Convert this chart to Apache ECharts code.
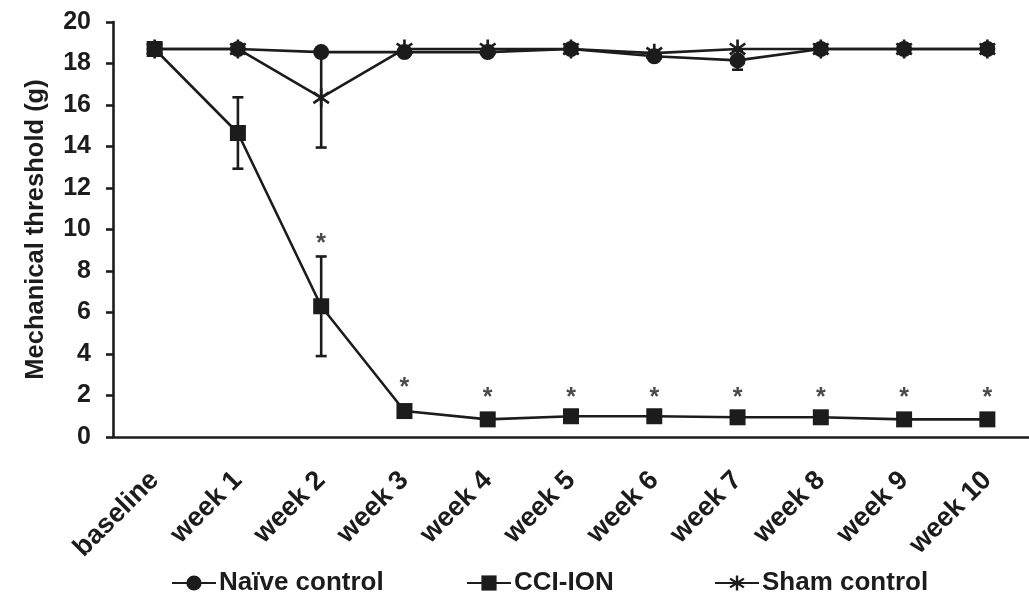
<!DOCTYPE html>
<html lang="en">
<head>
    <meta charset="UTF-8">
    <title>Mechanical threshold</title>
    <script src="https://cdn.jsdelivr.net/npm/echarts@6/dist/echarts.min.js"></script>
    <style>
        body { margin: 0; background: #fff; }
        #main { width: 1029px; height: 604px; }
    </style>
</head>
<body>
    <div id="main"></div>
    <script>
        // categories and values
        var weeks = ['baseline', 'week 1', 'week 2', 'week 3', 'week 4', 'week 5', 'week 6', 'week 7', 'week 8', 'week 9', 'week 10'];
        var naive = [18.7, 18.7, 18.55, 18.55, 18.55, 18.7, 18.35, 18.15, 18.7, 18.7, 18.7];
        var naiveErr = [0, 0, 0, 0, 0, 0, 0, 0.45, 0, 0, 0];
        var cci = [18.7, 14.65, 6.3, 1.25, 0.85, 1.0, 1.0, 0.95, 0.95, 0.85, 0.85];
        var cciErr = [0, 1.72, 2.4, 0, 0, 0, 0, 0, 0, 0, 0];
        var sham = [18.7, 18.7, 16.35, 18.7, 18.7, 18.7, 18.5, 18.7, 18.7, 18.7, 18.7];
        var shamErr = [0, 0, 2.4, 0, 0, 0, 0, 0, 0, 0, 0];
        // where the significance marks sit
        var sigY = [null, null, 9.6, 2.65, 2.15, 2.15, 2.15, 2.15, 2.15, 2.15, 2.15];
        var yTicks = [0, 20, 2];

        var ink = '#1c1c1c';
        var font = '"Liberation Sans", Arial, sans-serif';

        // asterisk marker for the sham group (three thin bars)
        function starPath() {
            var parts = [];
            var angles = [90, 35, -35];
            for (var i = 0; i < angles.length; i++) {
                var a = angles[i] * Math.PI / 180, w = 0.14;
                var dx = Math.cos(a), dy = Math.sin(a);
                var px = -dy * w, py = dx * w;
                var pts = [[dx + px, dy + py], [dx - px, dy - py], [-dx - px, -dy - py], [-dx + px, -dy + py]];
                parts.push('M' + pts.map(function (p) { return (p[0] + 1).toFixed(3) + ' ' + (p[1] + 1).toFixed(3); }).join(' L') + ' Z');
            }
            return 'path://' + parts.join(' ');
        }
        var star = starPath();

        function errSeries(vals, errs) {
            var d = [];
            for (var i = 0; i < vals.length; i++) {
                if (errs[i] > 0) d.push([i, vals[i] - errs[i], vals[i] + errs[i]]);
            }
            return {
                type: 'custom',
                silent: true,
                z: 1,
                data: d,
                renderItem: function (params, api) {
                    var lo = api.coord([api.value(0), api.value(1)]);
                    var hi = api.coord([api.value(0), api.value(2)]);
                    var cap = 5.5;
                    var st = { stroke: ink, lineWidth: 2.6 };
                    return {
                        type: 'group',
                        children: [
                            { type: 'line', shape: { x1: lo[0], y1: lo[1], x2: hi[0], y2: hi[1] }, style: st },
                            { type: 'line', shape: { x1: lo[0] - cap, y1: lo[1], x2: lo[0] + cap, y2: lo[1] }, style: st },
                            { type: 'line', shape: { x1: hi[0] - cap, y1: hi[1], x2: hi[0] + cap, y2: hi[1] }, style: st }
                        ]
                    };
                }
            };
        }

        function legendAt(name, left) {
            return {
                left: left,
                top: 565,
                itemWidth: 44,
                itemHeight: 19,
                itemGap: 0,
                textStyle: { fontSize: 26, fontWeight: 'bold', color: ink, fontFamily: font, padding: [0, 0, 0, -2] },
                data: [name]
            };
        }

        var myChart = echarts.init(document.getElementById('main'));
        var option = {
            animation: false,
            textStyle: { fontFamily: font, color: ink },
            grid: { left: 113, right: 0, top: 22, bottom: 167, containLabel: false },
            legend: [
                legendAt('Naïve control', 166),
                legendAt('CCI-ION', 461),
                legendAt('Sham control', 709)
            ],
            xAxis: {
                type: 'category',
                data: weeks,
                axisLine: { lineStyle: { color: ink, width: 2.6 } },
                axisTick: { alignWithLabel: true, length: 6, lineStyle: { color: ink, width: 2.6 } },
                axisLabel: { rotate: 45, margin: 39, fontSize: 27, fontWeight: 'bold', color: ink, fontFamily: font, interval: 0 }
            },
            yAxis: {
                type: 'value',
                min: yTicks[0],
                max: yTicks[1],
                interval: yTicks[2],
                name: 'Mechanical threshold (g)',
                nameLocation: 'middle',
                nameGap: 64,
                nameTextStyle: { fontSize: 25.5, fontWeight: 'bold', color: ink, fontFamily: font },
                splitLine: { show: false },
                axisLine: { show: true, lineStyle: { color: ink, width: 2.6 } },
                axisTick: { show: true, length: 7, lineStyle: { color: ink, width: 2.6 } },
                axisLabel: { fontSize: 25, fontWeight: 'bold', color: ink, fontFamily: font, margin: 22 }
            },
            series: [
                errSeries(naive, naiveErr),
                errSeries(cci, cciErr),
                errSeries(sham, shamErr),
                {
                    name: 'Naïve control', type: 'line', data: naive, z: 3,
                    symbol: 'circle', symbolSize: 16,
                    lineStyle: { color: ink, width: 2.6 },
                    itemStyle: { color: ink, borderWidth: 0 }
                },
                {
                    name: 'CCI-ION', type: 'line', data: cci, z: 4,
                    symbol: 'rect', symbolSize: 16,
                    lineStyle: { color: ink, width: 2.6 },
                    itemStyle: { color: ink, borderWidth: 0 }
                },
                {
                    name: 'Sham control', type: 'line', data: sham, z: 5,
                    symbol: star, symbolSize: 19, symbolKeepAspect: true,
                    lineStyle: { color: ink, width: 2.6 },
                    itemStyle: { color: ink, borderWidth: 0 }
                },
                {
                    type: 'scatter', data: sigY, silent: true, z: 6,
                    symbolSize: 1,
                    itemStyle: { color: 'rgba(0,0,0,0)' },
                    label: {
                        show: true, position: 'inside', formatter: '*',
                        fontSize: 25, fontWeight: 'bold', color: ink, fontFamily: font, offset: [0, 6]
                    }
                }
            ]
        };
        myChart.setOption(option);
    </script>
</body>
</html>
